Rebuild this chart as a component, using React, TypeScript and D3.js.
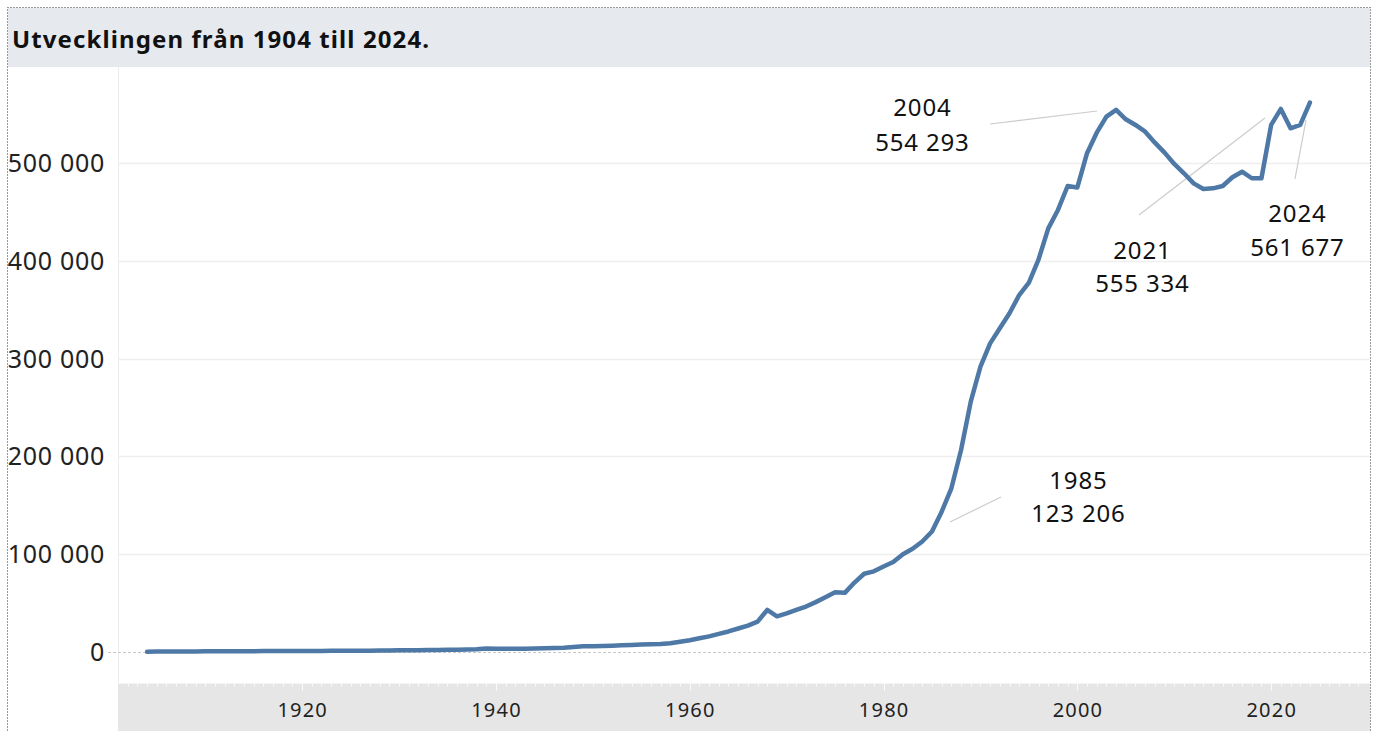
import React from "react";
import * as d3 from "d3";

const years: number[] = d3.range(1904, 2025);
const values: number[] = [
  // 1904-1913
  300, 400, 450, 500, 550, 600, 650, 700, 750, 800,
  // 1914-1923
  800, 850, 900, 950, 950, 1000, 1050, 1100, 1150, 1200,
  // 1924-1933
  1250, 1300, 1350, 1400, 1500, 1600, 1700, 1800, 1900, 2000,
  // 1934-1943
  2100, 2200, 2300, 2500, 2800, 3500, 3400, 3300, 3300, 3400,
  // 1944-1953
  3600, 3800, 4000, 4300, 5000, 5800, 6000, 6200, 6400, 6800,
  // 1954-1963
  7200, 7600, 8000, 8300, 9000, 10500, 12000, 14000, 16000, 18500,
  // 1964-1973
  21000, 24000, 27000, 31000, 43000, 36500, 39500, 43000, 46500, 51000,
  // 1974-1983
  56000, 61000, 60500, 71000, 80000, 82500, 87500, 92000, 100000, 105500,
  // 1984-1993
  113000, 123206, 143500, 167400, 206500, 256000, 291700, 315600, 331000, 346300,
  // 1994-2003
  365000, 377700, 401500, 433200, 452000, 476500, 475000, 510000, 531000, 547400,
  // 2004-2013
  554293, 544700, 538900, 532000, 520800, 510600, 499000, 489500, 479200, 473400,
  // 2014-2023
  474100, 476500, 485400, 491100, 484400, 484400, 538900, 555334, 535500, 538900,
  // 2024
  561677,
];

const yTicks: number[] = [0, 100000, 200000, 300000, 400000, 500000];
const xTicks: number[] = [1920, 1940, 1960, 1980, 2000, 2020];
const title = "Utvecklingen från 1904 till 2024.";

const annotations = [
  { year: 2004, value: 554293 },
  { year: 1985, value: 123206 },
  { year: 2021, value: 555334 },
  { year: 2024, value: 561677 },
];
// label placement (pixel layout, not data)
const annoLayout = [
  { cx: 922, cy1: 107, cy2: 142, lx1: 990, ly1: 124, lx2: 1097, ly2: 111 },
  { cx: 1078, cy1: 480, cy2: 513, lx1: 950, ly1: 522, lx2: 1001, ly2: 497 },
  { cx: 1142, cy1: 250, cy2: 283, lx1: 1139, ly1: 215, lx2: 1265, ly2: 118 },
  { cx: 1297, cy1: 213, cy2: 247, lx1: 1295, ly1: 179, lx2: 1306, ly2: 120 },
];

const locale = d3.formatLocale({
  decimal: ",",
  thousands: " ",
  grouping: [3],
  currency: ["", " kr"],
});
const fmt = locale.format(",d");

const FONT = "'Noto Sans', 'Open Sans', sans-serif";

export default function App() {
  const W = 1374;
  const H = 731;
  const plotLeft = 118;
  const plotRight = 1370;
  const plotTop = 67;
  const axisTop = 683;

  const x = d3.scaleLinear().domain([1901, 2030.2]).range([plotLeft, plotRight]);
  const y = d3.scaleLinear().domain([0, 500000]).range([652, 163]);

  const line = d3
    .line<number>()
    .x((_, i) => x(years[i]))
    .y((d) => y(d))
    .curve(d3.curveLinear);

  const minorTicks = d3.range(1902, 2030);

  return (
    <svg
      width={W}
      height={H}
      style={{ position: "absolute", left: 0, top: 0, display: "block" }}
      fontFamily={FONT}
    >
      <rect x={0} y={0} width={W} height={H} fill="#ffffff" />
      {/* title band */}
      <rect x={8} y={8} width={1362} height={59} fill="#e6eaee" />
      <text x={12} y={48} fontSize={24} fontWeight={700} fill="#111" letterSpacing={1.1}>
        {title}
      </text>
      {/* outer dotted border */}
      <rect
        x={7.5}
        y={7.5}
        width={1363}
        height={740}
        fill="none"
        stroke="#333"
        strokeWidth={1}
        strokeDasharray="1,2"
      />

      {/* plot left border */}
      <line x1={plotLeft + 0.5} x2={plotLeft + 0.5} y1={plotTop} y2={axisTop} stroke="#ececec" />

      {/* gridlines */}
      {yTicks
        .filter((t) => t !== 0)
        .map((t) => (
          <line
            key={t}
            x1={plotLeft}
            x2={plotRight}
            y1={Math.round(y(t)) + 0.5}
            y2={Math.round(y(t)) + 0.5}
            stroke="#eeeeee"
            strokeWidth={1.5}
          />
        ))}
      {/* zero line */}
      <line
        x1={108}
        x2={plotRight}
        y1={y(0) + 0.5}
        y2={y(0) + 0.5}
        stroke="#c8c8c8"
        strokeDasharray="3,2"
      />

      {/* y labels */}
      {yTicks.map((t) => (
        <text
          key={t}
          x={105}
          y={y(t) + 9}
          textAnchor="end"
          fontSize={25}
          fill="#222"
          letterSpacing={0.7}
        >
          {fmt(t)}
        </text>
      ))}

      {/* x axis band */}
      <rect x={plotLeft} y={axisTop} width={plotRight - plotLeft} height={H - axisTop} fill="#e6e6e6" />
      <line x1={plotLeft} x2={plotRight} y1={axisTop + 0.5} y2={axisTop + 0.5} stroke="#f4f4f4" />
      {minorTicks.map((t) => (
        <line
          key={t}
          x1={Math.round(x(t)) + 0.5}
          x2={Math.round(x(t)) + 0.5}
          y1={axisTop}
          y2={xTicks.includes(t) ? axisTop + 8 : axisTop + 3.5}
          stroke="#fafafa"
          strokeWidth={1}
        />
      ))}
      {xTicks.map((t) => (
        <text key={t} x={x(t) + 0.6} y={717} textAnchor="middle" fontSize={20} fill="#222" letterSpacing={1.2}>
          {t}
        </text>
      ))}

      {/* annotation leader lines */}
      {annoLayout.map((a, i) => (
        <line key={i} x1={a.lx1} y1={a.ly1} x2={a.lx2} y2={a.ly2} stroke="#cccccc" strokeWidth={1.2} />
      ))}

      {/* data line */}
      <path
        d={line(values) || ""}
        fill="none"
        stroke="#4e79a7"
        strokeWidth={4.5}
        strokeLinejoin="round"
        strokeLinecap="round"
      />

      {/* annotation labels */}
      {annotations.map((a, i) => (
        <g key={a.year}>
          <text x={annoLayout[i].cx + 0.4} y={annoLayout[i].cy1 + 9} textAnchor="middle" fontSize={24} fill="#111" letterSpacing={0.8}>
            {a.year}
          </text>
          <text x={annoLayout[i].cx + 0.4} y={annoLayout[i].cy2 + 9} textAnchor="middle" fontSize={24} fill="#111" letterSpacing={0.8}>
            {fmt(a.value)}
          </text>
        </g>
      ))}
    </svg>
  );
}
